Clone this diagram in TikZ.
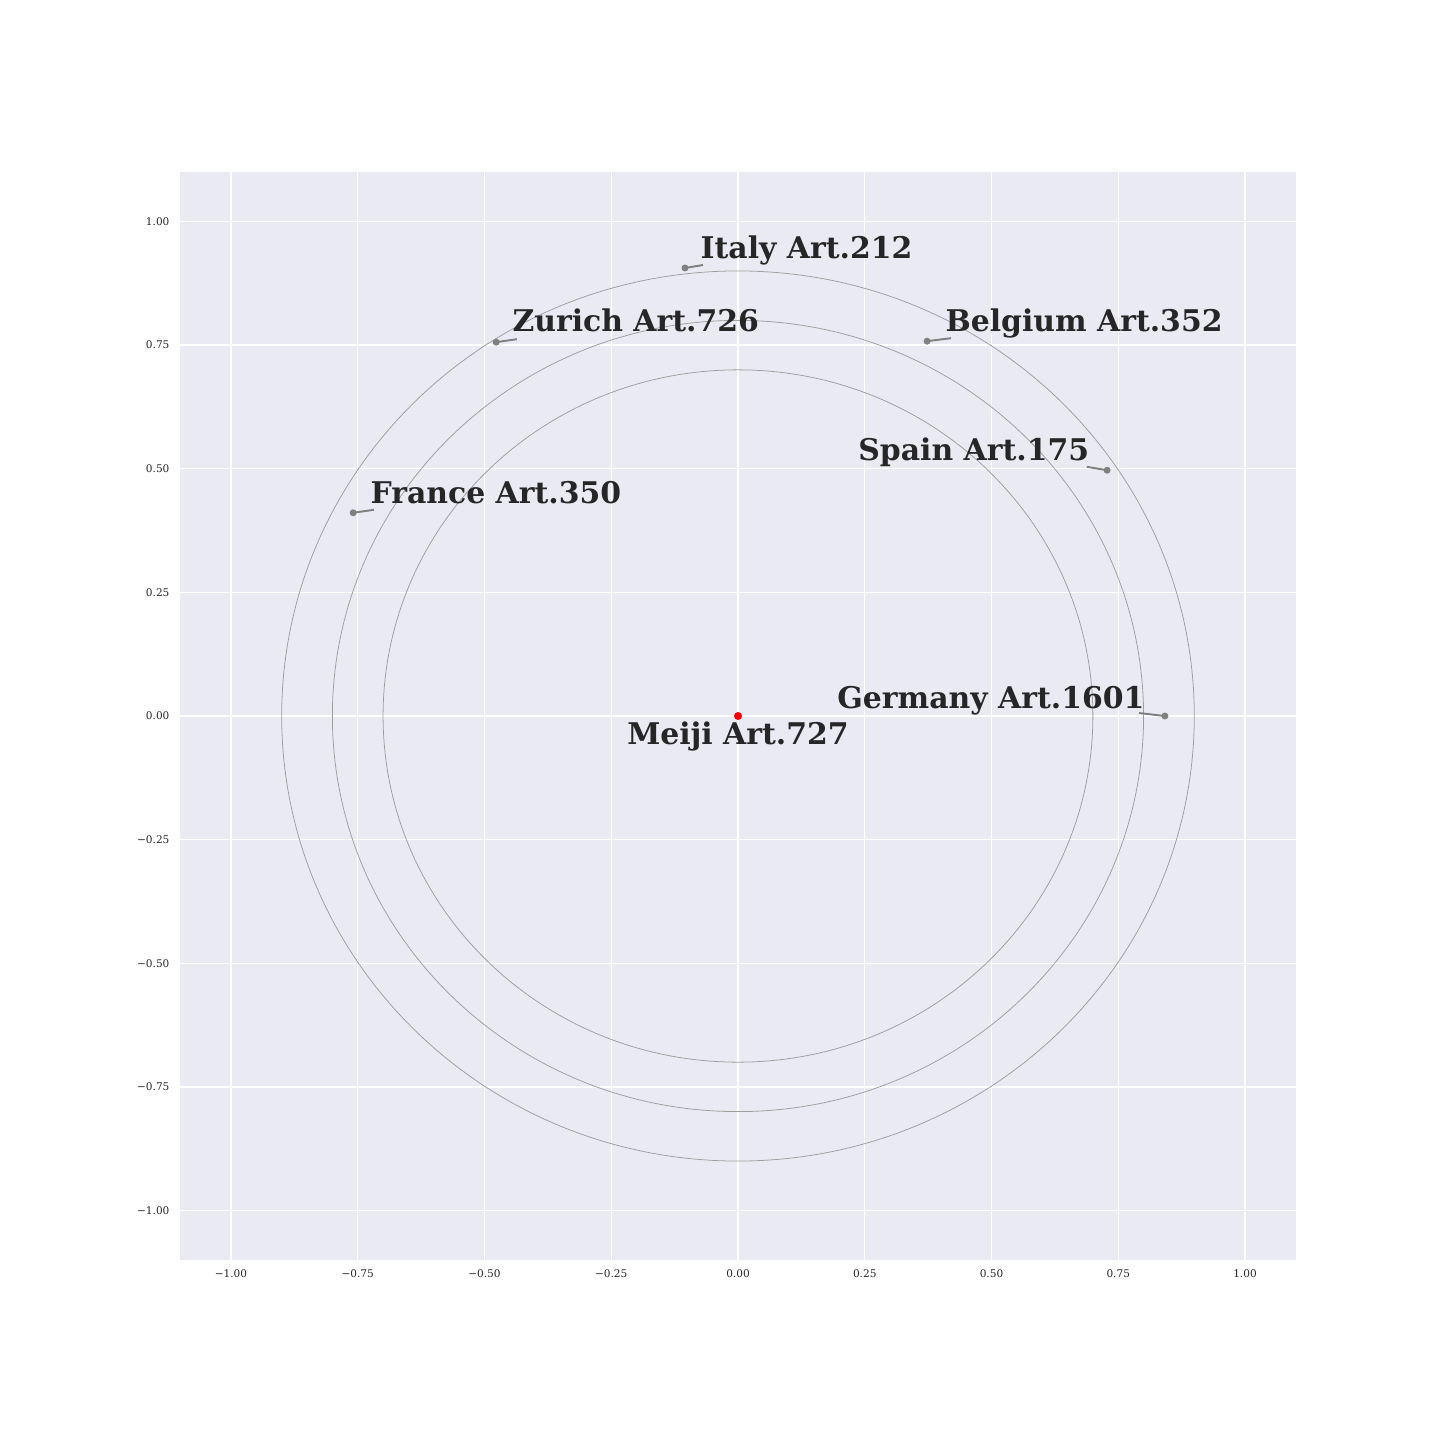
\documentclass[tikz,border=0pt]{standalone}
\usepackage{fontspec}
\setmainfont{DejaVu Serif}
\usetikzlibrary{positioning}
\definecolor{axbg}{HTML}{EAEAF2}
\definecolor{txtgray}{HTML}{262626}

\begin{document}
\begin{tikzpicture}[x=5.07cm,y=4.945cm,
  pt node/.style={circle,fill=gray,inner sep=0pt,minimum size=0.7mm},
  lab node/.style={font=\fontsize{8.5}{10}\selectfont\bfseries,text=txtgray,inner sep=0pt},
  tick lab/.style={font=\fontsize{3.0}{4}\selectfont,text=txtgray,inner sep=0pt},
  ring/.style={gray!75,line width=0.22pt},
  lead/.style={gray,line width=0.55pt}]

  \useasboundingbox (-1.4556,-1.4641) rectangle (1.3846,1.4479);
  \fill[axbg] (-1.1,-1.1) rectangle (1.1,1.1);

  % Grid and ticks
  \foreach \v/\t in {-1/−1.00,-0.75/−0.75,-0.5/−0.50,-0.25/−0.25,0/0.00,0.25/0.25,0.5/0.50,0.75/0.75,1/1.00} {
    \draw[white,line width=0.4pt] (\v,-1.1) -- (\v,1.1);
    \draw[white,line width=0.4pt] (-1.1,\v) -- (1.1,\v);
    \node[tick lab] at (\v,-1.128) {\t};
    \node[tick lab,anchor=east] at (-1.12,\v) {\t};
  }

  % Rings
  \draw[ring] (0,0) circle [radius=0.7];
  \draw[ring] (0,0) circle [radius=0.8];
  \draw[ring] (0,0) circle [radius=0.9];

  % Points
  \node[circle,fill=red,inner sep=0pt,minimum size=0.8mm] (meiji) at (0,0) {};
  \node[pt node] (italy) at (-0.1045,0.906) {};
  \node[pt node] (zurich) at (-0.477,0.756) {};
  \node[pt node] (belgium) at (0.373,0.758) {};
  \node[pt node] (france) at (-0.759,0.411) {};
  \node[pt node] (spain) at (0.728,0.497) {};
  \node[pt node] (germany) at (0.842,0) {};

  % Leader ends
  \coordinate (italy end) at (-0.069,0.912);
  \coordinate (zurich end) at (-0.436,0.762);
  \coordinate (belgium end) at (0.420,0.764);
  \coordinate (france end) at (-0.718,0.417);
  \coordinate (spain end) at (0.688,0.504);
  \coordinate (germany end) at (0.791,0.006);

  \draw[lead] (italy.center) -- (italy end);
  \draw[lead] (zurich.center) -- (zurich end);
  \draw[lead] (belgium.center) -- (belgium end);
  \draw[lead] (france.center) -- (france end);
  \draw[lead] (spain.center) -- (spain end);
  \draw[lead] (germany.center) -- (germany end);

  % Labels
  \node[lab node,anchor=base] (meiji lab) at (0,-0.057) {Meiji Art.727};
  \node[lab node,anchor=base west] (italy lab) at (-0.075,0.926) {Italy Art.212};
  \node[lab node,anchor=base west] (zurich lab) at (-0.446,0.777) {Zurich Art.726};
  \node[lab node,anchor=base west] (belgium lab) at (0.408,0.777) {Belgium Art.352};
  \node[lab node,anchor=base west] (france lab) at (-0.726,0.429) {France Art.350};
  \node[lab node,anchor=base east] (spain lab) at (0.694,0.516) {Spain Art.175};
  \node[lab node,anchor=base east] (germany lab) at (0.803,0.016) {Germany Art.1601};

\end{tikzpicture}
\end{document}
